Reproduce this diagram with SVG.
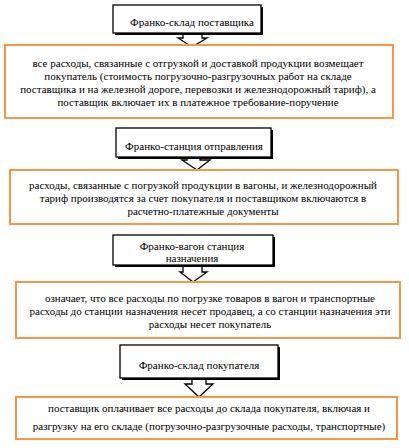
<svg xmlns="http://www.w3.org/2000/svg" width="409" height="448" viewBox="0 0 409 448" font-family="'Liberation Serif', 'DejaVu Serif', serif" font-size="11">
<defs>
<style>
text{font-family:'Liberation Serif','DejaVu Serif',serif;font-size:11px;fill:#000;text-anchor:middle}
.hd rect.s{fill:#000}
.hd rect.b{fill:#fff;stroke:#000;stroke-width:1.3}
.ob{fill:#fff;stroke:#F79646;stroke-width:2}
.ar{fill:#fff;stroke:#000;stroke-width:1.3;stroke-linejoin:miter}
</style>
</defs>
<rect width="409" height="448" fill="#fff"/>
<g id="connectors">
<path class="ar" d="M183,33 V38 H178 L192,47 L207,38 H202 V33"/>
<path class="ar" d="M187,157 V160 H182 L197,170 L210,160 H200 V157"/>
<path class="ar" d="M183,265 V272 H180 L193,282 L207,272 H202 V265"/>
<path class="ar" d="M192,378 V384 H185 L199,397 L213,384 H206 V378"/>
</g>
<g id="n1" class="hd">
<rect class="s" x="115" y="7" width="148" height="28"/>
<rect class="b" x="113" y="5" width="148" height="28"/>
<text x="192" y="26">Франко-склад поставщика</text>
</g>
<g id="n2">
<rect class="ob" x="5" y="45" width="388" height="73"/>
<text x="198" y="67">все расходы, связанные с отгрузкой и доставкой продукции возмещает</text>
<text x="198" y="80">покупатель (стоимость погрузочно-разгрузочных работ на складе</text>
<text x="198" y="93">поставщика и на железной дороге, перевозки и железнодорожный тариф), а</text>
<text x="198" y="106">поставщик включает их в платежное требование-поручение</text>
</g>
<g id="n3" class="hd">
<rect class="s" x="118" y="130" width="155" height="29"/>
<rect class="b" x="116" y="128" width="155" height="29"/>
<text x="194" y="150">Франко-станция отправления</text>
</g>
<g id="n4">
<rect class="ob" x="10" y="170" width="388" height="54"/>
<text x="203" y="189">расходы, связанные с погрузкой продукции в вагоны, и железнодорожный</text>
<text x="203" y="202">тариф производятся за счет покупателя и поставщиком включаются в</text>
<text x="203" y="215">расчетно-платежные документы</text>
</g>
<g id="n5" class="hd">
<rect class="s" x="115" y="237" width="160" height="30"/>
<rect class="b" x="113" y="235" width="160" height="30"/>
<text x="192" y="250">Франко-вагон станция</text>
<text x="192" y="262">назначения</text>
</g>
<g id="n6">
<rect class="ob" x="16" y="282" width="384" height="56"/>
<text x="210" y="302">означает, что все расходы по погрузке товаров в вагон и транспортные</text>
<text x="210" y="315">расходы до станции назначения несет продавец, а со станции назначения эти</text>
<text x="210" y="328">расходы несет покупатель</text>
</g>
<g id="n7" class="hd">
<rect class="s" x="122" y="347" width="158" height="33"/>
<rect class="b" x="120" y="345" width="158" height="33"/>
<text x="199" y="369">Франко-склад покупателя</text>
</g>
<g id="n8">
<rect class="ob" x="16" y="397" width="381" height="42"/>
<text x="209" y="412">поставщик оплачивает все расходы до склада покупателя, включая и</text>
<text x="209" y="430">разгрузку на его складе (погрузочно-разгрузочные расходы, транспортные)</text>
</g>
</svg>
